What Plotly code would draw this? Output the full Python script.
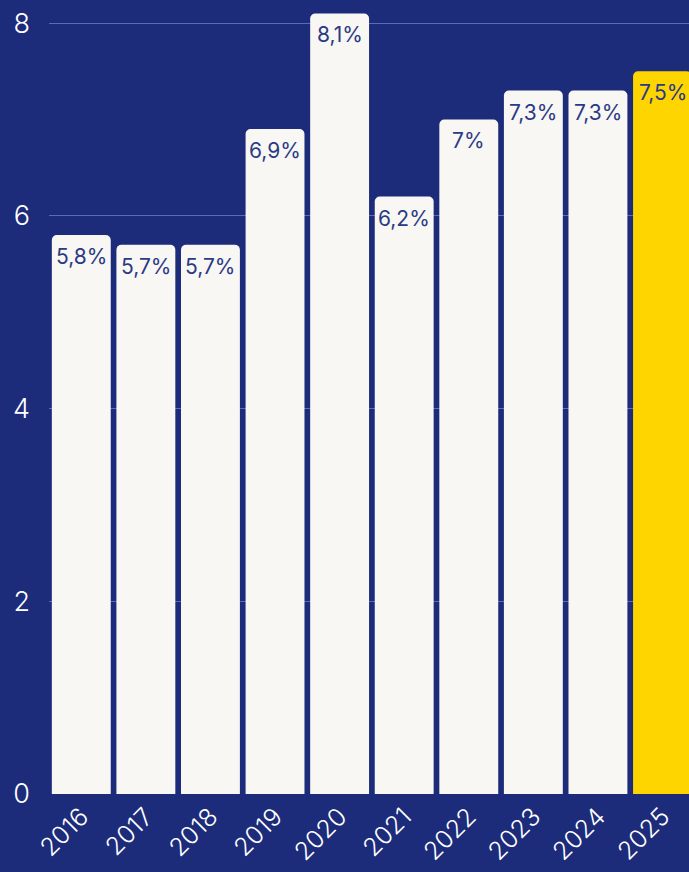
import plotly.graph_objects as go

years = ["2016", "2017", "2018", "2019", "2020", "2021", "2022", "2023", "2024", "2025"]
values = [5.8, 5.7, 5.7, 6.9, 8.1, 6.2, 7.0, 7.3, 7.3, 7.5]
labels = ["5,8%", "5,7%", "5,7%", "6,9%", "8,1%", "6,2%", "7%", "7,3%", "7,3%", "7,5%"]
y_ticks = [0, 2, 4, 6, 8]

bg = "#1c2b7a"
bar_colors = ["#f8f7f3"] * 9 + ["#ffd500"]
font_family = "Inter, Noto Sans, sans-serif"
xs = list(range(len(years)))

fig = go.Figure(go.Bar(
    x=xs,
    y=values,
    marker=dict(color=bar_colors, line=dict(width=0)),
    hoverinfo="skip",
))

for xi, v, lab in zip(xs, values, labels):
    fig.add_annotation(
        x=xi, y=v, text=lab, showarrow=False,
        xanchor="center", yanchor="top", yshift=-7,
        font=dict(family=font_family, size=21, color="#2b3a85", weight=400),
    )

fig.update_layout(
    width=689, height=872,
    margin=dict(l=49, r=0, t=0, b=78),
    paper_bgcolor=bg, plot_bgcolor=bg,
    bargap=0.088,
    barcornerradius=5,
    showlegend=False,
    xaxis=dict(
        range=[-0.5, 9.41],
        tickmode="array",
        tickvals=xs,
        ticktext=years,
        tickangle=-45,
        tickfont=dict(family=font_family, size=25, color="white", weight=300),
        showgrid=False, zeroline=False, showline=False, ticks="",
        ticklabelstandoff=2, automargin=False,
    ),
    yaxis=dict(
        range=[0, 8.24],
        tickvals=y_ticks,
        tickfont=dict(family=font_family, size=27, color="white", weight=300),
        showgrid=True, gridcolor="rgba(110,130,215,0.75)", gridwidth=1,
        zeroline=False, showline=False, ticks="", ticklabelstandoff=18,
        automargin=False,
    ),
)

fig.write_html("out.html")
